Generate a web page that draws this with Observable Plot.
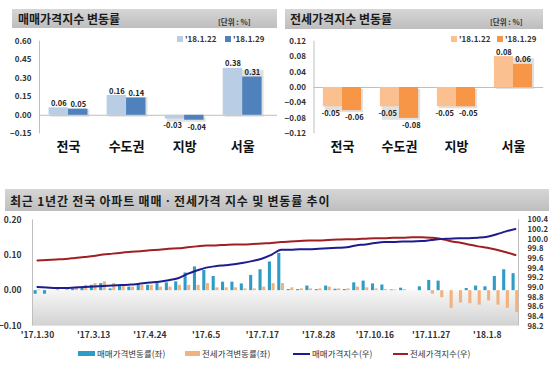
<!DOCTYPE html>
<html><head><meta charset="utf-8">
<script src="https://cdn.jsdelivr.net/npm/d3@7"></script>
<script src="https://cdn.jsdelivr.net/npm/@observablehq/plot@0.6"></script>
<style>
body{margin:0;width:560px;height:369px;position:relative;background:#fff;font-family:"Noto Sans CJK KR","Noto Sans",sans-serif;overflow:hidden}
.tbar{position:absolute;background:linear-gradient(#d6d6d6,#bebebe)}
.ttl{position:absolute;font-weight:700;color:#1b1b1b;font-size:12px;white-space:nowrap;line-height:1}
.unit{position:absolute;font-weight:700;color:#333;font-size:7.5px;white-space:nowrap;line-height:1}
.lg{position:absolute;font-size:8px;font-weight:700;color:#333;white-space:nowrap;line-height:1}
.lg2{position:absolute;font-size:8.5px;color:#333;white-space:nowrap;line-height:1}
.sw{position:absolute}
.panel{position:absolute}
</style></head><body>
<svg width="0" height="0" style="position:absolute">
  <defs>
    <linearGradient id="gb" x1="0" y1="0" x2="0" y2="1">
      <stop offset="0" stop-color="#f7f7f7"/>
      <stop offset="1" stop-color="#d2d2d2"/>
    </linearGradient>
  </defs>
</svg>

<div class="tbar" style="left:12px;top:9px;width:265px;height:19px"></div>
<div class="ttl" style="left:18px;top:13px">매매가격지수 변동률</div>
<div class="unit" style="left:218px;top:18px">[단위 : %]</div>

<div class="tbar" style="left:285px;top:9px;width:258px;height:20px"></div>
<div class="ttl" style="left:290px;top:13px">전세가격지수 변동률</div>
<div class="unit" style="left:490px;top:18px">[단위 : %]</div>

<div class="tbar" style="left:5px;top:189px;width:544px;height:22px"></div>
<div class="ttl" style="left:10px;top:195px;letter-spacing:0.8px">최근 1년간 전국 아파트 매매ㆍ전세가격 지수 및 변동률 추이</div>

<div id="p1" class="panel" style="left:0;top:30px;width:280px"></div>
<div id="p2" class="panel" style="left:280px;top:30px;width:280px"></div>
<div id="p3" class="panel" style="left:0;top:212px;width:560px"></div>

<div id="legTop1"></div>
<div id="legTop2"></div>
<div id="legBottom"></div>

<script>
// ---------- data ----------
const regions = ["전국", "수도권", "지방", "서울"];
const weekLabels = ["'18.1.22", "'18.1.29"];
const saleChange0122 = [0.06, 0.16, -0.03, 0.38];
const saleChange0129 = [0.05, 0.14, -0.04, 0.31];
const jeonseChange0122 = [-0.05, -0.05, -0.05, 0.08];
const jeonseChange0129 = [-0.06, -0.08, -0.05, 0.06];
const saleTicks = [-0.15, 0, 0.15, 0.30, 0.45, 0.60];
const jeonseTicks = [-0.12, -0.08, -0.04, 0, 0.04, 0.08, 0.12];

const weeks = ["17.1.30","17.2.6","17.2.13","17.2.20","17.2.27","17.3.6","17.3.13","17.3.20","17.3.27","17.4.3",
  "17.4.10","17.4.17","17.4.24","17.5.1","17.5.8","17.5.15","17.5.22","17.5.29","17.6.5","17.6.12",
  "17.6.19","17.6.26","17.7.3","17.7.10","17.7.17","17.7.24","17.7.31","17.8.7","17.8.14","17.8.21",
  "17.8.28","17.9.4","17.9.11","17.9.18","17.9.25","17.10.2","17.10.16","17.10.23","17.10.30","17.11.6",
  "17.11.13","17.11.20","17.11.27","17.12.4","17.12.11","17.12.18","17.12.25","18.1.1","18.1.8","18.1.15",
  "18.1.22","18.1.29"];
const tickWeeks = ["17.1.30","17.3.13","17.4.24","17.6.5","17.7.17","17.8.28","17.10.16","17.11.27","18.1.8"];
const saleWeekly = [-0.01,-0.01,0.00,0.00,0.005,0.008,0.015,0.02,0.005,0.015,
  0.01,0.02,0.015,0.02,0.022,0.025,0.05,0.067,0.057,0.04,
  0.024,0.024,0.019,0.043,0.059,0.081,0.105,0.003,0.003,0.013,
  0.003,0.013,0.004,0.003,0.022,0.027,0.019,0.016,0.002,0.007,
  0.00,0.011,0.029,0.027,0.00,0.00,0.006,0.013,0.011,0.04,
  0.059,0.048];
const jeonseWeekly = [0.002,0.00,0.005,0.008,0.01,0.015,0.02,0.025,0.02,0.015,
  0.01,0.015,0.015,0.01,0.01,0.015,0.015,0.015,0.02,0.008,
  0.008,0.008,0.005,0.005,0.01,0.02,0.02,0.008,0.005,0.005,
  0.005,0.01,0.005,0.005,0.01,0.008,0.005,0.003,0.002,0.003,
  0.00,0.00,-0.01,-0.02,-0.05,-0.035,-0.037,-0.041,-0.029,-0.041,
  -0.05,-0.062];
const saleIndex = [99.01,99.00,98.99,98.99,99.00,99.01,99.02,99.03,99.04,99.05,
  99.06,99.08,99.10,99.12,99.15,99.19,99.28,99.35,99.41,99.44,
  99.46,99.48,99.51,99.55,99.60,99.68,99.78,99.78,99.79,99.79,
  99.80,99.81,99.82,99.83,99.87,99.89,99.92,99.94,99.94,99.95,
  99.95,99.96,99.98,100.00,100.01,100.02,100.02,100.03,100.05,100.10,
  100.16,100.21];
const jeonseIndex = [99.56,99.57,99.58,99.59,99.61,99.63,99.65,99.68,99.70,99.72,
  99.74,99.75,99.77,99.78,99.80,99.81,99.83,99.85,99.87,99.87,
  99.88,99.89,99.89,99.90,99.91,99.92,99.94,99.95,99.96,99.97,
  99.97,99.98,99.99,100.00,100.00,100.01,100.02,100.02,100.03,100.03,
  100.04,100.04,100.03,100.01,99.96,99.93,99.89,99.85,99.82,99.78,
  99.73,99.67];
const leftTicks = [-0.10, 0.00, 0.10, 0.20];
const rightTicks = [98.2,98.4,98.6,98.8,99.0,99.2,99.4,99.6,99.8,100.0,100.2,100.4];
const legendBottom = ["매매가격변동률(좌)", "전세가격변동률(좌)", "매매가격지수(우)", "전세가격지수(우)"];

// ---------- colours ----------
const C = {
  saleLight: "#b9cde5", saleDark: "#4f81bd",
  jeonLight: "#fac090", jeonDark: "#f79646",
  barBlue: "#2f9cc5", barOrange: "#f2b27f",
  lineNavy: "#1d1d8f", lineRed: "#a11f22", axis: "#bfbfbf", text: "#333"
};

const svgStyle = "font-family:'Noto Sans CJK KR','Noto Sans',sans-serif;font-weight:bold;color:#333;background:transparent;overflow:visible";

// ---------- top panels ----------
function groupPanel(el, a, b, colA, colB, yDomain, ticks, xMax, mL, mR) {
  const rows = regions.map((r, i) => ({i, r, a: a[i], b: b[i]}));
  const w = 0.335;
  const xDomain = [-0.5, xMax];
  const lab = (key, off, pos) => Plot.text(rows, {
    filter: d => pos ? d[key] >= 0 : d[key] < 0,
    x: d => d.i + off, y: key, text: d => d[key].toFixed(2),
    lineAnchor: pos ? "bottom" : "top", dy: pos ? -2 : 4, fontSize: 7.5, fill: "#222"
  });
  const p = Plot.plot({
    width: 280, height: 135,
    marginTop: 10.7, marginBottom: 31.7, marginLeft: mL, marginRight: mR,
    style: svgStyle,
    x: {domain: xDomain, axis: null},
    y: {domain: yDomain, axis: null},
    marks: [
      Plot.ruleY([0], {stroke: C.axis}),
      Plot.ruleX([xDomain[0]], {stroke: C.axis, y1: yDomain[0], y2: yDomain[1]}),
      Plot.rect(rows, {x1: d => d.i - w, x2: d => d.i + w, y1: () => 0, y2: d => Math.max(d.a, d.b) >= 0 ? Math.max(d.a, d.b) : Math.min(d.a, d.b), fill: "#c8c8c8", fillOpacity: 0.55, dx: 2, dy: 2}),
      Plot.rect(rows, {x1: d => d.i - w, x2: d => d.i, y1: () => 0, y2: "a", fill: colA}),
      Plot.rect(rows, {x1: d => d.i, x2: d => d.i + w, y1: () => 0, y2: "b", fill: colB}),
      lab("a", -w / 2, true), lab("a", -w / 2 - 0.04, false),
      lab("b", w / 2, true), lab("b", w / 2 + 0.04, false),
      Plot.axisY(ticks, {anchor: "left", label: null, tickSize: 0, tickPadding: 8, tickFormat: d3.format(".2f"), fontSize: 8}),
      Plot.text(rows, {x: "i", text: "r", frameAnchor: "bottom", lineAnchor: "top", dy: 8, fontSize: 13, fill: "#111"})
    ]
  });
  document.getElementById(el).appendChild(p);
}
groupPanel("p1", saleChange0122, saleChange0129, C.saleLight, C.saleDark, [-0.15, 0.60], saleTicks, 3.6, 39, 3);
groupPanel("p2", jeonseChange0122, jeonseChange0129, C.jeonLight, C.jeonDark, [-0.12, 0.12], jeonseTicks, 3.53, 33.5, 16.8);

// top legends
function topLegend(id, left1, left2, c1, c2) {
  const el = document.getElementById(id);
  el.innerHTML =
    `<div class="sw" style="left:${left1}px;top:36px;width:6px;height:6px;background:${c1}"></div>` +
    `<div class="lg" style="left:${left1 + 8}px;top:35px">${weekLabels[0]}</div>` +
    `<div class="sw" style="left:${left2}px;top:36px;width:6px;height:6px;background:${c2}"></div>` +
    `<div class="lg" style="left:${left2 + 8}px;top:35px">${weekLabels[1]}</div>`;
}
topLegend("legTop1", 177, 225, C.saleLight, C.saleDark);
topLegend("legTop2", 451, 497, C.jeonLight, C.jeonDark);

// ---------- bottom panel ----------
const yL = [-0.1, 0.2], yR = [98.2, 100.4];
const toLeft = v => yL[0] + (v - yR[0]) / (yR[1] - yR[0]) * (yL[1] - yL[0]);
const fromLeft = y => yR[0] + (y - yL[0]) / (yL[1] - yL[0]) * (yR[1] - yR[0]);
const rows = weeks.map((w, i) => ({i, w, sale: saleWeekly[i], jeon: jeonseWeekly[i], si: saleIndex[i], ji: jeonseIndex[i]}));
const xD = [-0.53, 51.33];
const p3 = Plot.plot({
  width: 560, height: 130,
  marginTop: 7.3, marginBottom: 16.4, marginLeft: 32, marginRight: 42,
  style: svgStyle,
  x: {domain: xD, axis: null},
  y: {domain: yL, axis: null},
  marks: [
    Plot.rect([xD], {x1: d => d[0], x2: d => d[1], y1: () => 0, y2: () => yL[0], fill: "url(#gb)"}),
    Plot.ruleX(xD, {stroke: C.axis}),
    Plot.rect(rows, {x1: d => d.i - 0.36, x2: d => d.i - 0.03, y1: () => 0, y2: "sale", fill: C.barBlue}),
    Plot.rect(rows, {x1: d => d.i + 0.03, x2: d => d.i + 0.36, y1: () => 0, y2: "jeon", fill: C.barOrange}),
    Plot.line(rows, {x: "i", y: d => toLeft(d.ji), stroke: C.lineRed, strokeWidth: 2, curve: "monotone-x"}),
    Plot.line(rows, {x: "i", y: d => toLeft(d.si), stroke: C.lineNavy, strokeWidth: 2, curve: "monotone-x"}),
    Plot.axisY(leftTicks, {anchor: "left", label: null, tickSize: 0, tickPadding: 11, tickFormat: d3.format(".2f"), fontSize: 8.5}),
    Plot.axisY(rightTicks.map(toLeft), {anchor: "right", label: null, tickSize: 0, tickPadding: 9, tickFormat: d => fromLeft(d).toFixed(1), textAnchor: "start", fontSize: 7.6}),
    Plot.axisX(tickWeeks.map(t => weeks.indexOf(t)), {anchor: "bottom", label: null, tickSize: 0, tickPadding: 6, tickFormat: i => "'" + weeks[i], fontSize: 8.5})
  ]
});
document.getElementById("p3").appendChild(p3);

// bottom legend
document.getElementById("legBottom").innerHTML =
  `<div class="sw" style="left:78px;top:351px;width:17px;height:5px;background:${C.barBlue}"></div>` +
  `<div class="lg2" style="left:97px;top:349px">${legendBottom[0]}</div>` +
  `<div class="sw" style="left:185px;top:351px;width:15px;height:5px;background:${C.barOrange}"></div>` +
  `<div class="lg2" style="left:202px;top:349px">${legendBottom[1]}</div>` +
  `<div class="sw" style="left:293px;top:352.5px;width:17px;height:2px;background:${C.lineNavy}"></div>` +
  `<div class="lg2" style="left:312px;top:349px">${legendBottom[2]}</div>` +
  `<div class="sw" style="left:393px;top:352.5px;width:15px;height:2px;background:${C.lineRed}"></div>` +
  `<div class="lg2" style="left:410px;top:349px">${legendBottom[3]}</div>`;
</script>
</body></html>
